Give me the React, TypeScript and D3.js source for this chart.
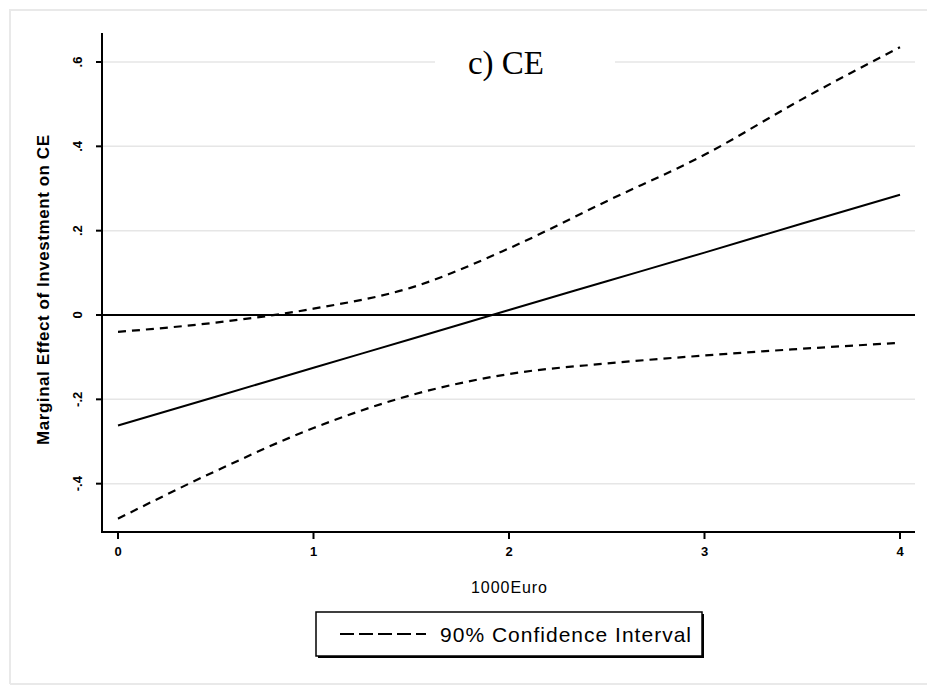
import * as d3 from 'd3';
import React, { useRef, useEffect } from 'react';

const xValues = [0, 0.5, 1, 1.5, 2, 2.5, 3, 3.5, 4];
const effect = [-0.262, -0.194, -0.125, -0.057, 0.012, 0.080, 0.148, 0.217, 0.285];
const upperCI = [-0.040, -0.018, 0.015, 0.065, 0.158, 0.27, 0.38, 0.512, 0.635];
const lowerCI = [-0.483, -0.370, -0.268, -0.19, -0.14, -0.115, -0.096, -0.080, -0.066];
const xTicks = [0, 1, 2, 3, 4];
const yTicks = [-0.4, -0.2, 0, 0.2, 0.4, 0.6];
const yTickLabels = ['-.4', '-.2', '0', '.2', '.4', '.6'];

const width = 927;
const height = 685;

function App() {
    const ref = useRef<SVGSVGElement>(null);

    useEffect(() => {
        const svg = d3.select(ref.current);
        svg.selectAll('*').remove();
        const font = '"Liberation Sans", Arial, sans-serif';

        const x = d3.scaleLinear().domain([0, 4]).range([118, 900]);
        const y = d3.scaleLinear().domain([0, 0.6]).range([315, 62]);
        const plotLeft = 102, plotRight = 915, plotTop = 33, plotBottom = 532;

        // outer frame
        svg.append('path')
            .attr('d', `M10,684 L10,10 L927,10 M10,684 L927,684`)
            .attr('fill', 'none')
            .attr('stroke', '#e9e9e9')
            .attr('stroke-width', 2);

        // gridlines
        svg.selectAll('line.grid')
            .data(yTicks.filter(d => d !== 0))
            .enter()
            .append('line')
            .attr('class', 'grid')
            .attr('x1', plotLeft).attr('x2', plotRight)
            .attr('y1', d => y(d)).attr('y2', d => y(d))
            .attr('stroke', '#e6e6e6')
            .attr('stroke-width', 1.5);

        // title with white box over gridline
        svg.append('rect')
            .attr('x', 435).attr('y', 40).attr('width', 180).attr('height', 44)
            .attr('fill', 'white');
        svg.append('text')
            .attr('x', 506).attr('y', 74)
            .attr('text-anchor', 'middle')
            .attr('font-family', '"Liberation Serif", "Times New Roman", serif')
            .attr('font-size', 33)
            .text('c) CE');

        // zero line
        svg.append('line')
            .attr('x1', plotLeft).attr('x2', plotRight)
            .attr('y1', y(0)).attr('y2', y(0))
            .attr('stroke', 'black').attr('stroke-width', 2);

        // axes
        svg.append('line')
            .attr('x1', plotLeft).attr('x2', plotLeft)
            .attr('y1', plotTop).attr('y2', plotBottom)
            .attr('stroke', 'black').attr('stroke-width', 2);
        svg.append('line')
            .attr('x1', plotLeft - 1).attr('x2', plotRight)
            .attr('y1', plotBottom).attr('y2', plotBottom)
            .attr('stroke', 'black').attr('stroke-width', 2);

        const yt = svg.selectAll('g.yt').data(yTicks).enter().append('g').attr('class', 'yt');
        yt.append('line')
            .attr('x1', plotLeft - 6).attr('x2', plotLeft)
            .attr('y1', d => y(d)).attr('y2', d => y(d))
            .attr('stroke', 'black').attr('stroke-width', 2);
        yt.append('text')
            .attr('transform', d => `translate(82,${y(d)}) rotate(-90)`)
            .attr('text-anchor', 'middle')
            .attr('font-family', font)
            .attr('font-size', 13)
            .attr('font-weight', 'bold')
            .text((d, i) => yTickLabels[i]);

        const xt = svg.selectAll('g.xt').data(xTicks).enter().append('g').attr('class', 'xt');
        xt.append('line')
            .attr('x1', d => x(d)).attr('x2', d => x(d))
            .attr('y1', plotBottom).attr('y2', plotBottom + 7)
            .attr('stroke', 'black').attr('stroke-width', 2);
        xt.append('text')
            .attr('x', d => x(d)).attr('y', 556)
            .attr('text-anchor', 'middle')
            .attr('font-family', font)
            .attr('font-size', 13)
            .attr('font-weight', 'bold')
            .text(d => d);

        // axis titles
        svg.append('text')
            .attr('x', 509).attr('y', 593)
            .attr('text-anchor', 'middle')
            .attr('font-family', font)
            .attr('font-size', 16)
            .attr('textLength', 76)
            .text('1000Euro');
        svg.append('text')
            .attr('transform', 'translate(49,290) rotate(-90)')
            .attr('text-anchor', 'middle')
            .attr('font-family', font)
            .attr('font-size', 17)
            .attr('font-weight', 'bold')
            .attr('textLength', 310)
            .text('Marginal Effect of Investment on CE');

        // lines
        const line = d3.line<number>()
            .x((d, i) => x(xValues[i]))
            .y(d => y(d))
            .curve(d3.curveMonotoneX);

        svg.append('path').attr('d', line(effect))
            .attr('fill', 'none').attr('stroke', 'black').attr('stroke-width', 2);
        [upperCI, lowerCI].forEach(s => {
            svg.append('path').attr('d', line(s))
                .attr('fill', 'none').attr('stroke', 'black').attr('stroke-width', 2.2)
                .attr('stroke-dasharray', '8 6');
        });

        // legend
        svg.append('rect')
            .attr('x', 318).attr('y', 614).attr('width', 386).attr('height', 44)
            .attr('fill', 'black');
        svg.append('rect')
            .attr('x', 316).attr('y', 612).attr('width', 386).attr('height', 44)
            .attr('fill', 'white').attr('stroke', 'black').attr('stroke-width', 1.5);
        svg.append('line')
            .attr('x1', 340).attr('x2', 426).attr('y1', 634).attr('y2', 634)
            .attr('stroke', 'black').attr('stroke-width', 2.2)
            .attr('stroke-dasharray', '14 5');
        svg.append('text')
            .attr('x', 440).attr('y', 642)
            .attr('font-family', font)
            .attr('font-size', 21)
            .attr('textLength', 251)
            .text('90% Confidence Interval');
    }, []);

    return (
        <div className="chart">
            <svg ref={ref} width={width} height={height}
                style={{ position: 'absolute', left: 0, top: 0, background: 'white' }}>
            </svg>
        </div>
    );
}

export default App;
